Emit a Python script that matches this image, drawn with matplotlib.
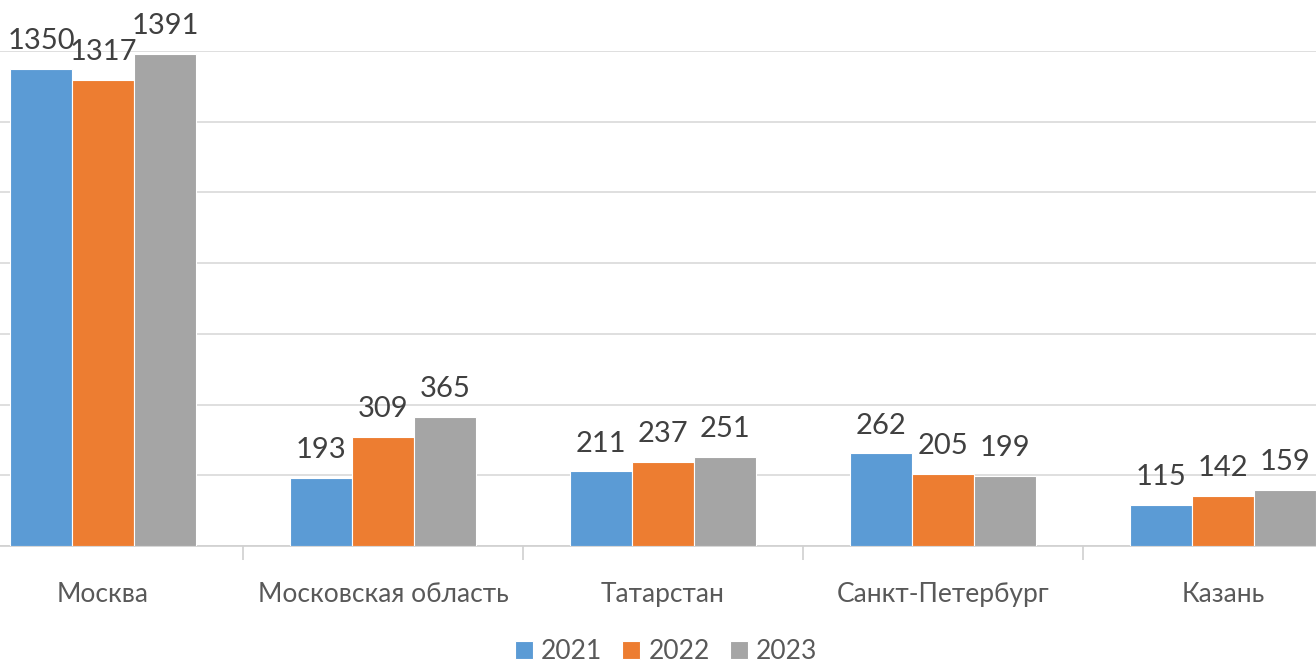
import numpy as np
import matplotlib.pyplot as plt

categories = ['Москва', 'Московская область', 'Татарстан', 'Санкт-Петербург', 'Казань']
years = ['2021', '2022', '2023']
v2021 = [1350, 193, 211, 262, 115]
v2022 = [1317, 309, 237, 205, 142]
v2023 = [1391, 365, 251, 199, 159]
colors = ['#5b9bd5', '#ed7d31', '#a5a5a5']

plt.rcParams['font.family'] = ['Lato', 'DejaVu Sans']

fig = plt.figure(figsize=(13.16, 6.63), dpi=100)
# axes run past the picture edges, as the reference is cropped
ax = fig.add_axes([-37 / 1316, 117 / 663, 1400 / 1316, 495 / 663])

x = np.arange(len(categories))
w = 0.221
for i, (vals, c, yr) in enumerate(zip([v2021, v2022, v2023], colors, years)):
    bars = ax.bar(x + (i - 1) * w, vals, w, color=c, edgecolor='white', linewidth=0.8, label=yr, zorder=3)
    for b, v in zip(bars, vals):
        ax.text(b.get_x() + b.get_width() / 2, v + 42, str(v), ha='center', va='bottom',
                fontsize=21, color='#404040', zorder=4)

ax.set_xlim(-0.5, len(categories) - 0.5)
ax.set_ylim(0, 1400)
ax.set_yticks(np.arange(0, 1401, 200))
ax.set_yticklabels([])
ax.tick_params(axis='y', length=0)
ax.grid(axis='y', color='#d9d9d9', linewidth=1.2, zorder=0)
for s in ['top', 'right', 'left']:
    ax.spines[s].set_visible(False)
ax.spines['bottom'].set_color('#d0d0d0')
ax.spines['bottom'].set_linewidth(1.2)

ax.set_xticks(x)
ax.set_xticklabels(categories, fontsize=19, color='#595959')
ax.tick_params(axis='x', length=0, pad=26)
ax.set_xticks(np.arange(0.5, len(categories) - 0.5, 1), minor=True)
ax.tick_params(axis='x', which='minor', length=10, color='#d0d0d0', width=1.2)

leg = fig.legend(loc='center', bbox_to_anchor=(0.506, 0.017), ncol=3, frameon=False,
                 fontsize=19, handlelength=0.7, handleheight=0.7, handletextpad=0.3,
                 columnspacing=0.75)
for t in leg.get_texts():
    t.set_color('#595959')

fig.savefig('out.png', dpi=100)
